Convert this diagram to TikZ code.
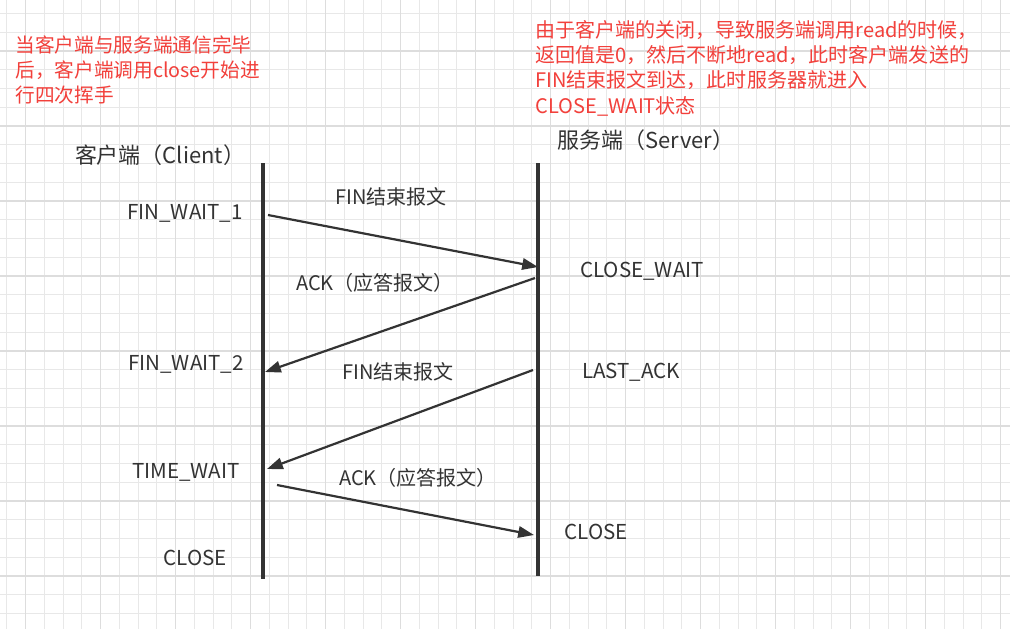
\documentclass[tikz,border=0pt]{standalone}
\usepackage{fontspec}
\setmainfont{Noto Sans CJK SC}
\usepackage{xcolor}
\usetikzlibrary{arrows.meta}
\definecolor{inkgray}{HTML}{333333}
\definecolor{notered}{HTML}{F2403B}
\definecolor{gridminor}{HTML}{E8E8E8}
\definecolor{gridmajor}{HTML}{DDDDDD}

\begin{document}
\begin{tikzpicture}[x=0.02cm,y=-0.02cm,
  lifeline/.style={inkgray,line width=1.85pt},
  msg/.style={inkgray,line width=1.25pt,-{Triangle[length=9pt,width=6.5pt]}},
  statelbl/.style={inkgray,inner sep=0pt,font=\fontsize{11.7}{13}\selectfont},
  msglbl/.style={inkgray,inner sep=0pt,font=\fontsize{11.4}{13}\selectfont},
  headlbl/.style={inkgray,inner sep=0pt,font=\fontsize{12.5}{14}\selectfont},
  notetext/.style={notered,inner sep=0pt,anchor=north west,align=left,
    font=\fontsize{11.2}{14.4}\selectfont}]
  % ── Canvas and grid ────────────────────────────────
  \fill[white] (0,0) rectangle (1010,629);
  \useasboundingbox (0,0) rectangle (1010,629);
  \foreach \gx in {0,...,53} \draw[gridminor,line width=0.6pt] (6.95+18.75*\gx,0) -- (6.95+18.75*\gx,629);
  \foreach \gy in {0,...,33} \draw[gridminor,line width=0.6pt] (0,13.5+18.75*\gy) -- (1010,13.5+18.75*\gy);
  \foreach \gx in {25.7,100.7,...,1010} \draw[gridmajor,line width=0.7pt] (\gx,0) -- (\gx,629);
  \foreach \gy in {51,126,...,629} \draw[gridmajor,line width=0.7pt] (0,\gy) -- (1010,\gy);
  % ── Notes ──────────────────────────────────────────
  \node[notetext] (noteclient) at (15,35)
    {当客户端与服务端通信完毕\\后，客户端调用close开始进\\行四次挥手};
  \node[notetext,font=\fontsize{11.4}{14.4}\selectfont] (noteserver) at (535,20)
    {由于客户端的关闭，导致服务端调用read的时候，\\返回值是0，然后不断地read，此时客户端发送的\\FIN结束报文到达，此时服务器就进入\\CLOSE\_WAIT状态};
  % ── Headers and lifelines ──────────────────────────
  \node[headlbl] (client) at (160,155) {客户端（Client）};
  \node[headlbl] (server) at (646,140) {服务端（Server）};
  \coordinate (ctop) at (263,163);
  \coordinate (cbot) at (263,579);
  \coordinate (stop) at (538,163);
  \coordinate (sbot) at (538,576);
  \draw[lifeline] (ctop) -- (cbot);
  \draw[lifeline] (stop) -- (sbot);
  % ── States ─────────────────────────────────────────
  \node[statelbl] (finwait1) at (185,213) {FIN\_WAIT\_1};
  \node[statelbl] (finwait2) at (186,364) {FIN\_WAIT\_2};
  \node[statelbl] (timewait) at (186,472) {TIME\_WAIT};
  \node[statelbl] (cclose)   at (195,558) {CLOSE};
  \node[statelbl] (closewait) at (642,271) {CLOSE\_WAIT};
  \node[statelbl] (lastack)   at (631,372) {LAST\_ACK};
  \node[statelbl] (sclose)    at (596,532) {CLOSE};
  % ── Message end points on the lifelines ────────────
  \coordinate (c1) at (268,215);  \coordinate (s1) at (538,267);
  \coordinate (s2) at (535,278);  \coordinate (c2) at (265,372);
  \coordinate (s3) at (533,370);  \coordinate (c3) at (267,469);
  \coordinate (c4) at (277,485);  \coordinate (s4) at (534,535);
  % ── Messages ───────────────────────────────────────
  \draw[msg] (c1) -- (s1);
  \draw[msg] (s2) -- (c2);
  \draw[msg] (s3) -- (c3);
  \draw[msg] (c4) -- (s4);
  \node[msglbl] (fin1) at (391,197) {FIN结束报文};
  \node[msglbl] (ack1) at (375,283) {ACK（应答报文）};
  \node[msglbl] (fin2) at (398,372) {FIN结束报文};
  \node[msglbl] (ack2) at (418,478) {ACK（应答报文）};
\end{tikzpicture}
\end{document}
